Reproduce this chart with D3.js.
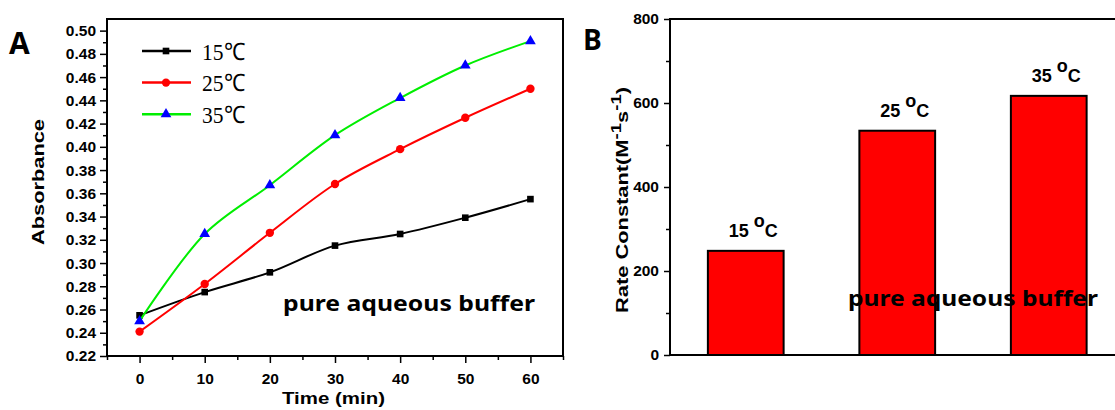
<!DOCTYPE html>
<html>
<head>
<meta charset="utf-8">
<script src="https://cdnjs.cloudflare.com/ajax/libs/d3/7.8.5/d3.min.js"></script>
<style>
  body { margin: 0; background: #fff; }
  .axis text { font-family: "Liberation Sans", Arial, sans-serif; font-weight: bold; font-size: 15.5px; fill: #000; }
  .axis line { stroke: #000; stroke-width: 1.5px; }
  .axis path { display: none; }
</style>
</head>
<body>
<div id="chart"></div>
<script>
// panel A data
const times = [0, 10, 20, 30, 40, 50, 60];
const abs15 = [0.255, 0.275, 0.292, 0.315, 0.325, 0.339, 0.355];
const abs25 = [0.241, 0.282, 0.326, 0.368, 0.398, 0.425, 0.450];
const abs35 = [0.250, 0.325, 0.367, 0.410, 0.442, 0.470, 0.491];
const seriesNames = ['15℃', '25℃', '35℃'];

// panel B data
const barTemps = ['15', '25', '35'];
const rateConstants = [248, 534, 617];

const svg = d3.select('#chart').append('svg')
    .attr('width', 1115)
    .attr('height', 410);

const sans = '"Liberation Sans", Arial, sans-serif';

// ---------- panel A ----------
const a = {left: 107, right: 563, top: 19, bottom: 356};
const xA = d3.scaleLinear([-5, 65], [a.left, a.right]);
const yA = d3.scaleLinear([0.22, 0.51], [a.bottom, a.top]);

const gA = svg.append('g');

// minor ticks
gA.append('g').attr('class', 'axis')
    .attr('transform', `translate(${a.left},0)`)
    .call(d3.axisLeft(yA).tickValues(d3.range(0.23, 0.505, 0.02)).tickSize(4).tickFormat(''));
gA.append('g').attr('class', 'axis')
    .attr('transform', `translate(0,${a.bottom})`)
    .call(d3.axisBottom(xA).tickValues(d3.range(-5, 66, 10)).tickSize(4).tickFormat(''));

// major ticks
gA.append('g').attr('class', 'axis')
    .attr('transform', `translate(${a.left},0)`)
    .call(d3.axisLeft(yA).tickValues(d3.range(0.22, 0.5001, 0.02)).tickSize(7).tickFormat(d3.format('.2f')))
    .selectAll('text').attr('dx', '-1px');
gA.append('g').attr('class', 'axis')
    .attr('transform', `translate(0,${a.bottom})`)
    .call(d3.axisBottom(xA).tickValues(times).tickSize(7))
    .selectAll('text').attr('dy', '1.15em');

gA.append('rect')
    .attr('x', a.left).attr('y', a.top)
    .attr('width', a.right - a.left).attr('height', a.bottom - a.top)
    .attr('fill', 'none').attr('stroke', '#000').attr('stroke-width', 2);

const series = [
    {name: seriesNames[0], values: abs15, color: '#000', marker: 'square', mcolor: '#000'},
    {name: seriesNames[1], values: abs25, color: '#ff0000', marker: 'circle', mcolor: '#ff0000'},
    {name: seriesNames[2], values: abs35, color: '#00ee00', marker: 'triangle', mcolor: '#0000ff'}
];

const line = d3.line()
    .x((d, i) => xA(times[i]))
    .y(d => yA(d))
    .curve(d3.curveCatmullRom.alpha(0.5));

const symbolOf = {square: d3.symbolSquare, circle: d3.symbolCircle, triangle: d3.symbolTriangle};
const sizeOf = {square: 44, circle: 55, triangle: 50};

series.forEach(s => {
    gA.append('path')
        .attr('d', line(s.values))
        .attr('fill', 'none')
        .attr('stroke', s.color)
        .attr('stroke-width', 2);
    gA.selectAll(null)
        .data(s.values)
        .enter()
        .append('path')
        .attr('transform', (d, i) => `translate(${xA(times[i])},${yA(d)})`)
        .attr('d', d3.symbol(symbolOf[s.marker], sizeOf[s.marker]))
        .attr('fill', s.mcolor);
});

// legend
const legend = gA.append('g');
series.forEach((s, i) => {
    const y = 51 + i * 31.6;
    legend.append('line')
        .attr('x1', 142).attr('x2', 191)
        .attr('y1', y).attr('y2', y)
        .attr('stroke', s.color).attr('stroke-width', 2.5);
    legend.append('path')
        .attr('transform', `translate(166,${y})`)
        .attr('d', d3.symbol(symbolOf[s.marker], sizeOf[s.marker]))
        .attr('fill', s.mcolor);
    legend.append('text')
        .attr('x', 202).attr('y', y + 8.5)
        .attr('textLength', 43)
        .attr('lengthAdjust', 'spacingAndGlyphs')
        .style('font-family', '"Liberation Serif", "Times New Roman", serif')
        .style('font-size', '24px')
        .text(s.name);
});

gA.append('text')
    .attr('x', 283).attr('y', 311)
    .attr('textLength', 252)
    .attr('lengthAdjust', 'spacingAndGlyphs')
    .style('font-family', '"Noto Sans", "Open Sans", sans-serif')
    .style('font-weight', '700')
    .style('font-size', '22px')
    .text('pure aqueous buffer');

gA.append('text')
    .attr('transform', 'translate(44,182) rotate(-90)')
    .attr('text-anchor', 'middle')
    .attr('textLength', 126)
    .attr('lengthAdjust', 'spacingAndGlyphs')
    .style('font-family', sans)
    .style('font-weight', 'bold')
    .style('font-size', '16px')
    .text('Absorbance');

gA.append('text')
    .attr('x', 282).attr('y', 404)
    .attr('textLength', 103)
    .attr('lengthAdjust', 'spacingAndGlyphs')
    .style('font-family', sans)
    .style('font-weight', 'bold')
    .style('font-size', '16px')
    .text('Time (min)');

gA.append('text')
    .attr('x', 9).attr('y', 54)
    .style('font-family', '"Open Sans", "Liberation Sans", sans-serif')
    .style('font-weight', 'bold')
    .style('font-size', '30px')
    .text('A');

// ---------- panel B ----------
const b = {left: 670, top: 19, bottom: 355};
const xB = d3.scaleLinear([0.5, 4], [b.left, b.left + 3.5 * 151.5]);
const yB = d3.scaleLinear([0, 800], [b.bottom, b.top]);

const gB = svg.append('g');

gB.append('g').attr('class', 'axis')
    .attr('transform', `translate(${b.left},0)`)
    .call(d3.axisLeft(yB).tickValues(d3.range(100, 800, 200)).tickSize(4).tickFormat(''));
gB.append('g').attr('class', 'axis')
    .attr('transform', `translate(${b.left},0)`)
    .call(d3.axisLeft(yB).tickValues(d3.range(0, 801, 200)).tickSize(6))
    .selectAll('text').attr('dx', '-2px');

gB.selectAll('.bar')
    .data(rateConstants)
    .enter()
    .append('rect')
    .attr('class', 'bar')
    .attr('x', (d, i) => xB(i + 1 - 0.25))
    .attr('y', d => yB(d))
    .attr('width', xB(1.25) - xB(0.75))
    .attr('height', d => yB(0) - yB(d))
    .attr('fill', '#ff0000')
    .attr('stroke', '#000')
    .attr('stroke-width', 2);

// frame: left, top, bottom
gB.append('path')
    .attr('d', `M1120,${b.top}H${b.left}V${b.bottom}H1120`)
    .attr('fill', 'none').attr('stroke', '#000').attr('stroke-width', 2);

const barLabel = gB.selectAll('.bar-label')
    .data(rateConstants)
    .enter()
    .append('text')
    .attr('class', 'bar-label')
    .attr('x', (d, i) => xB(i + 1) + 7.5)
    .attr('y', d => yB(d) - 14)
    .attr('text-anchor', 'middle')
    .style('font-family', sans)
    .style('font-weight', 'bold')
    .style('font-size', '18px');
barLabel.append('tspan').text((d, i) => barTemps[i] + ' ');
barLabel.append('tspan').attr('dy', -10).text('o');
barLabel.append('tspan').attr('dy', 10).text('C');

const yLabB = gB.append('text')
    .attr('transform', 'translate(628,200) rotate(-90)')
    .attr('text-anchor', 'middle')
    .attr('textLength', 226)
    .attr('lengthAdjust', 'spacingAndGlyphs')
    .style('font-family', sans)
    .style('font-weight', 'bold')
    .style('font-size', '16.5px');
yLabB.append('tspan').text('Rate Constant(M');
yLabB.append('tspan').attr('dy', -7).style('font-size', '14px').text('-1');
yLabB.append('tspan').attr('dy', 7).text('s');
yLabB.append('tspan').attr('dy', -7).style('font-size', '14px').text('-1');
yLabB.append('tspan').attr('dy', 7).text(')');

gB.append('text')
    .attr('x', 848).attr('y', 306)
    .attr('textLength', 250)
    .attr('lengthAdjust', 'spacingAndGlyphs')
    .style('font-family', '"Noto Sans", "Open Sans", sans-serif')
    .style('font-weight', '700')
    .style('font-size', '22px')
    .text('pure aqueous buffer');

gB.append('text')
    .attr('x', 583).attr('y', 50)
    .style('font-family', '"Open Sans", "Liberation Sans", sans-serif')
    .style('font-weight', 'bold')
    .style('font-size', '28px')
    .text('B');
</script>
</body>
</html>
